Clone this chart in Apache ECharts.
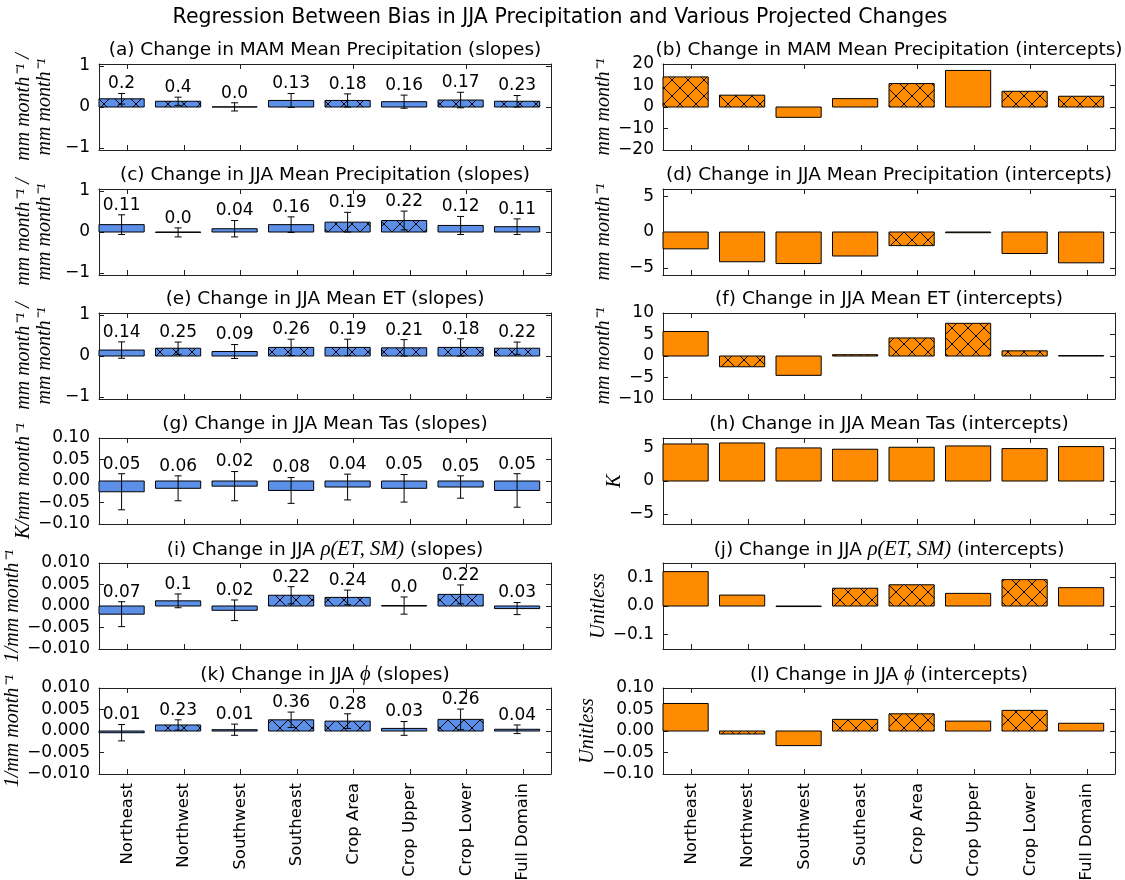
<!DOCTYPE html>
<html>
<head>
<meta charset="utf-8">
<script src="https://cdn.jsdelivr.net/npm/echarts@6/dist/echarts.min.js"></script>
<style>
  html, body { margin: 0; padding: 0; background: #fff; }
  #chart { width: 1125px; height: 880px; }
</style>
</head>
<body>
<div id="chart"></div>
<script>
// Regions along the x axis
const regions = ['Northeast', 'Northwest', 'Southwest', 'Southeast', 'Crop Area', 'Crop Upper', 'Crop Lower', 'Full Domain'];

// (a)/(b) MAM mean precipitation
const mamPrSlope = [0.20, 0.14, 0.003, 0.16, 0.16, 0.13, 0.17, 0.14];
const mamPrSlopeErr = [0.13, 0.10, 0.10, 0.17, 0.16, 0.16, 0.19, 0.14];
const mamPrSlopeR = ['0.2', '0.4', '0.0', '0.13', '0.18', '0.16', '0.17', '0.23'];
const mamPrIntercept = [14.0, 5.5, -4.8, 3.9, 10.9, 17.0, 7.3, 5.0];
const mamPrSig = [1, 1, 0, 0, 1, 0, 1, 1];

// (c)/(d) JJA mean precipitation
const jjaPrSlope = [0.18, -0.01, 0.08, 0.18, 0.24, 0.28, 0.16, 0.13];
const jjaPrSlopeErr = [0.24, 0.11, 0.20, 0.19, 0.24, 0.23, 0.22, 0.19];
const jjaPrSlopeR = ['0.11', '0.0', '0.04', '0.16', '0.19', '0.22', '0.12', '0.11'];
const jjaPrIntercept = [-2.35, -4.15, -4.4, -3.35, -1.9, -0.1, -3.0, -4.3];
const jjaPrSig = [0, 0, 0, 0, 1, 1, 0, 0];

// (e)/(f) JJA mean ET
const jjaEtSlope = [0.145, 0.19, 0.11, 0.21, 0.21, 0.20, 0.21, 0.19];
const jjaEtSlopeErr = [0.20, 0.15, 0.17, 0.20, 0.20, 0.20, 0.21, 0.15];
const jjaEtSlopeR = ['0.14', '0.25', '0.09', '0.26', '0.19', '0.21', '0.18', '0.22'];
const jjaEtIntercept = [5.7, -2.5, -4.5, 0.3, 4.2, 7.6, 1.2, 0.1];
const jjaEtSig = [0, 1, 0, 1, 1, 1, 1, 1];

// (g)/(h) JJA mean Tas
const jjaTasSlope = [-0.025, -0.017, -0.012, -0.022, -0.014, -0.017, -0.014, -0.022];
const jjaTasSlopeErr = [0.042, 0.029, 0.034, 0.030, 0.030, 0.032, 0.026, 0.039];
const jjaTasSlopeR = ['0.05', '0.06', '0.02', '0.08', '0.04', '0.05', '0.05', '0.05'];
const jjaTasIntercept = [5.6, 5.75, 5.0, 4.8, 5.1, 5.3, 4.9, 5.2];
const jjaTasSig = [0, 0, 0, 0, 0, 0, 0, 0];

// (i)/(j) JJA rho(ET, SM)
const jjaRhoSlope = [-0.0019, 0.0012, -0.001, 0.0025, 0.0020, 0.0001, 0.0027, -0.0006];
const jjaRhoSlopeErr = [0.0029, 0.0016, 0.0024, 0.0020, 0.0017, 0.0020, 0.0022, 0.0014];
const jjaRhoSlopeR = ['0.07', '0.1', '0.02', '0.22', '0.24', '0.0', '0.22', '0.03'];
const jjaRhoIntercept = [0.12, 0.038, -0.002, 0.062, 0.074, 0.044, 0.092, 0.064];
const jjaRhoSig = [0, 0, 0, 1, 1, 0, 1, 0];

// (k)/(l) JJA phi
const jjaPhiSlope = [-0.0004, 0.0014, 0.0003, 0.0026, 0.0023, 0.0006, 0.0027, 0.0004];
const jjaPhiSlopeErr = [0.0019, 0.0012, 0.0013, 0.0018, 0.0017, 0.0016, 0.0024, 0.0010];
const jjaPhiSlopeR = ['0.01', '0.23', '0.01', '0.36', '0.28', '0.03', '0.26', '0.04'];
const jjaPhiIntercept = [0.064, -0.007, -0.034, 0.027, 0.040, 0.023, 0.048, 0.018];
const jjaPhiSig = [0, 1, 0, 1, 1, 0, 1, 0];

const BLUE = '#5b8fe8';
const ORANGE = '#ff8c00';
const AXIS = '#222';
const SANS = 'DejaVu Sans';
const SERIF = 'Liberation Serif';

const rateUnit = 'mm month\u207B\u00B9';

const panels = [
  { title: '(a) Change in MAM Mean Precipitation (slopes)', v: mamPrSlope, e: mamPrSlopeErr, r: mamPrSlopeR, sig: mamPrSig,
    min: -1.05, max: 1.05, ticks: [-1, 0, 1], dec: 0, ylabel: rateUnit + ' /\n' + rateUnit, gap: 44 },
  { title: '(b) Change in MAM Mean Precipitation (intercepts)', v: mamPrIntercept, sig: mamPrSig,
    min: -20, max: 20, ticks: [-20, -10, 0, 10, 20], dec: 0, ylabel: rateUnit, gap: 49 },
  { title: '(c) Change in JJA Mean Precipitation (slopes)', v: jjaPrSlope, e: jjaPrSlopeErr, r: jjaPrSlopeR, sig: jjaPrSig,
    min: -1.05, max: 1.05, ticks: [-1, 0, 1], dec: 0, ylabel: rateUnit + ' /\n' + rateUnit, gap: 44 },
  { title: '(d) Change in JJA Mean Precipitation (intercepts)', v: jjaPrIntercept, sig: jjaPrSig,
    min: -6, max: 6, ticks: [-5, 0, 5], dec: 0, ylabel: rateUnit, gap: 49 },
  { title: '(e) Change in JJA Mean ET (slopes)', v: jjaEtSlope, e: jjaEtSlopeErr, r: jjaEtSlopeR, sig: jjaEtSig,
    min: -1.05, max: 1.05, ticks: [-1, 0, 1], dec: 0, ylabel: rateUnit + ' /\n' + rateUnit, gap: 44 },
  { title: '(f) Change in JJA Mean ET (intercepts)', v: jjaEtIntercept, sig: jjaEtSig,
    min: -10, max: 10, ticks: [-10, -5, 0, 5, 10], dec: 0, ylabel: rateUnit, gap: 49 },
  { title: '(g) Change in JJA Mean Tas (slopes)', v: jjaTasSlope, e: jjaTasSlopeErr, r: jjaTasSlopeR, sig: jjaTasSig,
    min: -0.1, max: 0.1, ticks: [-0.1, -0.05, 0, 0.05, 0.1], dec: 2, ylabel: 'K/' + rateUnit, gap: 58 },
  { title: '(h) Change in JJA Mean Tas (intercepts)', v: jjaTasIntercept, sig: jjaTasSig,
    min: -6.5, max: 6.5, ticks: [-5, 0, 5], dec: 0, ylabel: 'K', gap: 37 },
  { title: '(i) Change in JJA {m|\u03C1(ET, SM)} (slopes)', v: jjaRhoSlope, e: jjaRhoSlopeErr, r: jjaRhoSlopeR, sig: jjaRhoSig,
    min: -0.01, max: 0.01, ticks: [-0.01, -0.005, 0, 0.005, 0.01], dec: 3, ylabel: '1/' + rateUnit, gap: 70 },
  { title: '(j) Change in JJA {m|\u03C1(ET, SM)} (intercepts)', v: jjaRhoIntercept, sig: jjaRhoSig,
    min: -0.15, max: 0.15, ticks: [-0.1, 0, 0.1], dec: 1, ylabel: 'Unitless', gap: 47 },
  { title: '(k) Change in JJA {m|\u03D5} (slopes)', v: jjaPhiSlope, e: jjaPhiSlopeErr, r: jjaPhiSlopeR, sig: jjaPhiSig,
    min: -0.01, max: 0.01, ticks: [-0.01, -0.005, 0, 0.005, 0.01], dec: 3, ylabel: '1/' + rateUnit, gap: 70 },
  { title: '(l) Change in JJA {m|\u03D5} (intercepts)', v: jjaPhiIntercept, sig: jjaPhiSig,
    min: -0.1, max: 0.1, ticks: [-0.1, -0.05, 0, 0.05, 0.1], dec: 2, ylabel: 'Unitless', gap: 58 }
];

// Grid geometry: two columns, six rows
const colLeft = [99, 663];
const colWidth = [452, 452];
const rowTop = [64, 189, 313, 438, 563, 688];
const plotHeight = 86;

// Cross-hatch fill used for significant bars
function hatchFill(color) {
  const s = 16;
  const c = document.createElement('canvas');
  c.width = s; c.height = s;
  const g = c.getContext('2d');
  g.fillStyle = color;
  g.fillRect(0, 0, s, s);
  g.strokeStyle = '#000';
  g.lineWidth = 1;
  g.beginPath();
  g.moveTo(-2, -2); g.lineTo(s + 2, s + 2);
  g.moveTo(-2, s + 2); g.lineTo(s + 2, -2);
  g.stroke();
  return { image: c, repeat: 'repeat' };
}
const hatchBlue = hatchFill(BLUE);
const hatchOrange = hatchFill(ORANGE);

function fmtTick(val, dec) {
  const s = Math.abs(val).toFixed(dec);
  return (val < -1e-12 ? '\u2212' : '') + s;
}

const option = {
  animation: false,
  backgroundColor: '#fff',
  title: [{
    text: 'Regression Between Bias in JJA Precipitation and Various Projected Changes',
    left: 560, top: 7, textAlign: 'center', padding: 0,
    textStyle: { fontFamily: SANS, fontSize: 20.5, fontWeight: 'normal', color: '#000' }
  }],
  grid: [], xAxis: [], yAxis: [], series: []
};

panels.forEach((p, k) => {
  const col = k % 2, row = Math.floor(k / 2);
  const left = colLeft[col], top = rowTop[row], width = colWidth[col];
  const isSlope = col === 0;
  const bottomRow = row === 5;

  option.title.push({
    text: p.title,
    left: left + width / 2, top: top - 23, textAlign: 'center', padding: 0,
    textStyle: {
      fontFamily: SANS, fontSize: 18.5, fontWeight: 'normal', color: '#000',
      rich: { m: { fontFamily: SERIF, fontStyle: 'italic', fontSize: 20.5, color: '#000' } }
    }
  });

  option.grid.push({ left: left, top: top, width: width, height: plotHeight, containLabel: false, outerBoundsMode: 'none' });

  const xi = option.xAxis.length;
  option.xAxis.push({
    type: 'category', gridIndex: k, data: regions, position: 'bottom',
    axisLine: { show: true, onZero: false, lineStyle: { color: AXIS, width: 1 } },
    axisTick: { show: true, inside: true, alignWithLabel: true, length: 5, lineStyle: { color: AXIS } },
    axisLabel: { show: bottomRow, rotate: 90, margin: 9, fontFamily: SANS, fontSize: 16.5, color: '#000', interval: 0 },
    splitLine: { show: false }
  });
  option.xAxis.push({
    type: 'category', gridIndex: k, data: regions, position: 'top',
    axisLine: { show: true, onZero: false, lineStyle: { color: AXIS, width: 1 } },
    axisTick: { show: true, inside: true, alignWithLabel: true, length: 5, lineStyle: { color: AXIS } },
    axisLabel: { show: false }, splitLine: { show: false }
  });

  const yi = option.yAxis.length;
  option.yAxis.push({
    type: 'value', gridIndex: k, min: p.min, max: p.max, position: 'left',
    name: p.ylabel, nameLocation: 'middle', nameGap: p.gap, nameRotate: 90,
    nameTextStyle: { fontFamily: SERIF, fontStyle: 'italic', fontSize: 20, color: '#000', lineHeight: 21 },
    axisLine: { show: true, onZero: false, lineStyle: { color: AXIS, width: 1 } },
    axisTick: { show: true, inside: true, length: 5, customValues: p.ticks, lineStyle: { color: AXIS } },
    axisLabel: { show: true, customValues: p.ticks, margin: 9, fontFamily: SANS, fontSize: 17, color: '#000',
      formatter: v => fmtTick(v, p.dec) },
    splitLine: { show: false }
  });
  option.yAxis.push({
    type: 'value', gridIndex: k, min: p.min, max: p.max, position: 'right',
    axisLine: { show: true, onZero: false, lineStyle: { color: AXIS, width: 1 } },
    axisTick: { show: true, inside: true, length: 5, customValues: p.ticks, lineStyle: { color: AXIS } },
    axisLabel: { show: false }, splitLine: { show: false }
  });

  const color = isSlope ? BLUE : ORANGE;
  const hatch = isSlope ? hatchBlue : hatchOrange;

  option.series.push({
    type: 'custom', xAxisIndex: xi, yAxisIndex: yi,
    encode: { x: 0, y: 1 },
    data: p.v.map((v, i) => [i, v]),
    clip: false,
    renderItem: (params, api) => {
      const i = params.dataIndex;
      const v = api.value(1);
      const top = api.coord([i, v]);
      const base = api.coord([i, 0]);
      const bw = api.size([1, 0])[0];
      // bar occupies 80% of its slot, starting at the slot's left edge
      const x0 = top[0] - 0.5 * bw;
      const w = 0.8 * bw;
      const xc = top[0] - 0.1 * bw;
      const children = [{
        type: 'rect',
        shape: { x: x0, y: Math.min(top[1], base[1]), width: w, height: Math.abs(base[1] - top[1]) },
        style: { fill: p.sig[i] ? hatch : color, stroke: '#000', lineWidth: 1 }
      }];
      if (p.e) {
        const e = p.e[i];
        const hi = api.coord([i, v + e])[1];
        const lo = api.coord([i, v - e])[1];
        const cap = 3.5;
        const ls = { stroke: '#000', lineWidth: 1 };
        children.push({ type: 'line', shape: { x1: xc, y1: hi, x2: xc, y2: lo }, style: ls });
        children.push({ type: 'line', shape: { x1: xc - cap, y1: hi, x2: xc + cap, y2: hi }, style: ls });
        children.push({ type: 'line', shape: { x1: xc - cap, y1: lo, x2: xc + cap, y2: lo }, style: ls });
        children.push({
          type: 'text',
          style: { text: p.r[i], x: xc, y: hi - 1, textAlign: 'center', textVerticalAlign: 'bottom',
            fontFamily: SANS, fontSize: 17, fill: '#000' }
        });
      }
      return { type: 'group', children: children };
    }
  });
});

const chart = echarts.init(document.getElementById('chart'), null, { renderer: 'canvas' });
chart.setOption(option);
</script>
</body>
</html>
